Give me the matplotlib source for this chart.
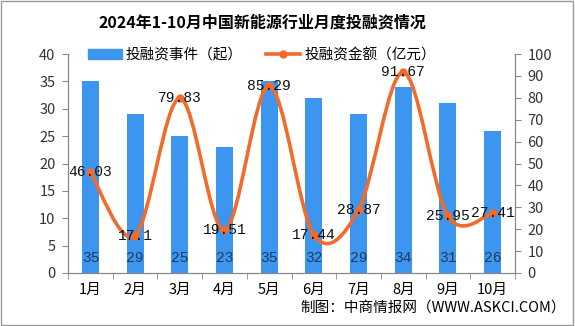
import numpy as np
import matplotlib
matplotlib.use('Agg')
import matplotlib.pyplot as plt
from matplotlib.path import Path
from matplotlib.patches import PathPatch, Patch
from matplotlib.lines import Line2D

plt.rcParams['font.family'] = ['Noto Sans CJK SC', 'DejaVu Sans']

months = ['1月', '2月', '3月', '4月', '5月', '6月', '7月', '8月', '9月', '10月']
events = [35, 29, 25, 23, 35, 32, 29, 34, 31, 26]
amount = [46.03, 17.1, 79.83, 19.51, 85.29, 17.44, 28.87, 91.67, 25.95, 27.41]

bar_c = '#3c95ee'
line_c = '#f26b2a'

fig = plt.figure(figsize=(5.75, 3.26), dpi=100)
ax = fig.add_axes([68/575, 1-273/326, (515-68)/575, (273-54)/326])
ax2 = ax.twinx()

x = np.arange(len(months))
ax.bar(x, events, width=0.38, color=bar_c, zorder=2)
for xi, v in zip(x, events):
    ax.text(xi, 2.7, str(v), ha='center', va='center', fontsize=10.5,
            family='Liberation Mono', color='#1f3a60', zorder=5)

# smoothed line (Catmull-Rom as cubic Bezier)
pts = np.column_stack([x, amount]).astype(float)
verts = [pts[0]]
codes = [Path.MOVETO]
n = len(pts)
for i in range(n - 1):
    p0 = pts[i - 1] if i > 0 else pts[i]
    p1 = pts[i]
    p2 = pts[i + 1]
    p3 = pts[i + 2] if i + 2 < n else pts[i + 1]
    c1 = p1 + (p2 - p0) / 6
    c2 = p2 - (p3 - p1) / 6
    verts += [c1, c2, p2]
    codes += [Path.CURVE4] * 3
ax2.add_patch(PathPatch(Path(verts, codes), fill=False, edgecolor=line_c, lw=2.6, zorder=3))
ax2.plot(x, amount, 'o', color=line_c, ms=5, zorder=4)
for xi, v in zip(x, amount):
    ax2.text(xi, v, f'{v:g}', ha='center', va='center', fontsize=10.5,
             family='Liberation Mono', color='#111111', zorder=6)

ax.set_xlim(-0.5, 9.5)
ax.set_ylim(0, 40)
ax.set_yticks(range(0, 41, 5))
ax2.set_ylim(0, 100)
ax2.set_yticks(range(0, 101, 10))
ax.set_xticks(x)
ax.set_xticklabels(months, fontsize=10.5)
ax.set_xticks(np.arange(-0.5, 10, 1), minor=True)
ax.tick_params(axis='x', which='major', length=0, pad=7)
ax.tick_params(axis='x', which='minor', length=4, color='#888888', direction='out')
ax.tick_params(axis='y', length=4, color='#888888', labelsize=10.5, pad=5, labelcolor='#333333')
ax2.tick_params(axis='y', length=4, color='#888888', labelsize=10.5, pad=5, labelcolor='#333333')

for a in (ax, ax2):
    for s in a.spines.values():
        s.set_visible(False)
ax.spines['left'].set_visible(True)
ax.spines['bottom'].set_visible(True)
ax2.spines['right'].set_visible(True)
for s in (ax.spines['left'], ax.spines['bottom'], ax2.spines['right']):
    s.set_color('#888888')
    s.set_linewidth(0.9)

handles = [Patch(color=bar_c), Line2D([0], [0], color=line_c, lw=2.6, marker='o', ms=5)]
fig.legend(handles, ['投融资事件（起）', '投融资金额（亿元）'], loc='center',
           bbox_to_anchor=(262/575, 1-55/326), ncol=2, frameon=False, fontsize=10.5,
           handlelength=2.3, handletextpad=0.3, columnspacing=1.6)

fig.text(262/575, 1-22/326, '2024年1-10月中国新能源行业月度投融资情况', ha='center',
         va='center', fontsize=11.5, fontweight='bold')
fig.text(566/575, 1-308/326, '制图：中商情报网（WWW.ASKCI.COM）', ha='right',
         va='center', fontsize=10.5)

fig.add_artist(plt.Rectangle((0.002, 0.003), 0.995, 0.994, transform=fig.transFigure,
                             fill=False, edgecolor='#999999', lw=1))

fig.savefig('out.png', dpi=100)
